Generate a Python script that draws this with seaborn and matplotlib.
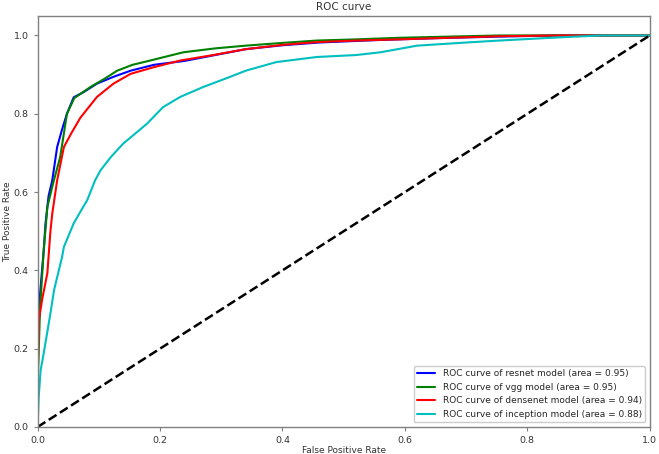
import matplotlib
matplotlib.use('Agg')
import matplotlib.pyplot as plt
import seaborn as sns
import pandas as pd

# Values
resnet_fpr = [0, 0, 0.003, 0.01, 0.013, 0.018, 0.024, 0.032, 0.04, 0.048, 0.059, 0.075, 0.097, 0.125,
              0.152, 0.19, 0.24, 0.29, 0.34, 0.40, 0.46, 0.55, 0.65, 0.75, 0.85, 0.95, 1.0]
resnet_tpr = [0, 0.25, 0.32, 0.45, 0.52, 0.59, 0.63, 0.715, 0.76, 0.80, 0.842, 0.855, 0.877, 0.895,
              0.91, 0.925, 0.935, 0.95, 0.965, 0.975, 0.982, 0.988, 0.993, 0.997, 1.0, 1.0, 1.0]

vgg_fpr = [0, 0, 0.004, 0.01, 0.016, 0.025, 0.037, 0.048, 0.06, 0.086, 0.11, 0.13, 0.155, 0.184,
           0.238, 0.29, 0.34, 0.40, 0.456, 0.52, 0.59, 0.67, 0.754, 0.85, 1.0]
vgg_tpr = [0, 0.1, 0.3, 0.45, 0.562, 0.62, 0.69, 0.80, 0.84, 0.868, 0.89, 0.91, 0.925, 0.936,
           0.957, 0.967, 0.974, 0.981, 0.987, 0.99, 0.994, 0.997, 1.0, 1.0, 1.0]

densenet_fpr = [0, 0, 0.002, 0.008, 0.016, 0.021, 0.024, 0.032, 0.043, 0.055, 0.07, 0.097, 0.124,
                0.152, 0.19, 0.233, 0.287, 0.34, 0.40, 0.456, 0.52, 0.59, 0.67, 0.754, 0.85, 1.0]
densenet_tpr = [0, 0.1, 0.273, 0.33, 0.393, 0.5, 0.545, 0.63, 0.715, 0.75, 0.79, 0.843, 0.877,
                0.902, 0.919, 0.936, 0.95, 0.965, 0.976, 0.983, 0.987, 0.99, 0.994, 0.998, 1.0, 1.0]

inception_fpr = [0, 0.002, 0.005, 0.01, 0.021, 0.027, 0.04, 0.043, 0.059, 0.07, 0.081, 0.094, 0.103,
                 0.12, 0.14, 0.16, 0.179, 0.205, 0.233, 0.27, 0.314, 0.34, 0.39, 0.456, 0.52, 0.56,
                 0.62, 0.70, 0.754, 0.85, 0.92, 1.0]
inception_tpr = [0, 0.08, 0.145, 0.188, 0.29, 0.35, 0.434, 0.46, 0.52, 0.55, 0.579, 0.63, 0.656,
                 0.69, 0.724, 0.75, 0.775, 0.817, 0.843, 0.868, 0.894, 0.91, 0.932, 0.945, 0.95, 0.957,
                 0.974, 0.982, 0.987, 0.995, 1.0, 1.0]

models = ['resnet', 'vgg', 'densenet', 'inception']
areas = [0.95, 0.95, 0.94, 0.88]
colors = ['b', 'g', 'r', 'c']

curves = {
    'resnet': (resnet_fpr, resnet_tpr),
    'vgg': (vgg_fpr, vgg_tpr),
    'densenet': (densenet_fpr, densenet_tpr),
    'inception': (inception_fpr, inception_tpr),
}

# Long-form table for seaborn
rows = []
for model, area in zip(models, areas):
    fpr, tpr = curves[model]
    label = f'ROC curve of {model} model (area = {area:.2f})'
    for x, y in zip(fpr, tpr):
        rows.append({'Model': label, 'FPR': x, 'TPR': y})
df = pd.DataFrame(rows)
labels = list(df['Model'].unique())

sns.set_style('ticks')
plt.rcParams['axes.edgecolor'] = '#808080'
plt.rcParams['xtick.color'] = '#808080'
plt.rcParams['ytick.color'] = '#808080'
plt.rcParams['xtick.labelcolor'] = '#333333'
plt.rcParams['ytick.labelcolor'] = '#333333'

fig = plt.figure(figsize=(6.59, 4.54), dpi=100)
ax = fig.add_axes([0.057, 0.0595, 0.929, 0.9055])

sns.lineplot(data=df, x='FPR', y='TPR', hue='Model', hue_order=labels,
             palette=dict(zip(labels, colors)), estimator=None, sort=False,
             linewidth=1.5, ax=ax)
ax.plot([0, 1], [0, 1], 'k--', linewidth=1.8)

ax.set_xlim(0, 1.0)
ax.set_ylim(0, 1.05)
ax.set_xticks([0, 0.2, 0.4, 0.6, 0.8, 1.0])
ax.set_yticks([0, 0.2, 0.4, 0.6, 0.8, 1.0])
ax.tick_params(labelsize=6.8, length=3, width=0.8)
ax.set_xlabel('False Positive Rate', fontsize=6.5, color='#333333', labelpad=1)
ax.set_ylabel('True Positive Rate', fontsize=6.5, color='#333333', labelpad=1)
ax.set_title('ROC curve', fontsize=7.5, color='#333333', pad=4)
for s in ax.spines.values():
    s.set_linewidth(1.0)

ax.legend(loc='lower right', fontsize=6.5, frameon=True, framealpha=1,
          edgecolor='#cccccc', fancybox=True, handlelength=2.0)

plt.savefig('out.png', dpi=100)
plt.close()
